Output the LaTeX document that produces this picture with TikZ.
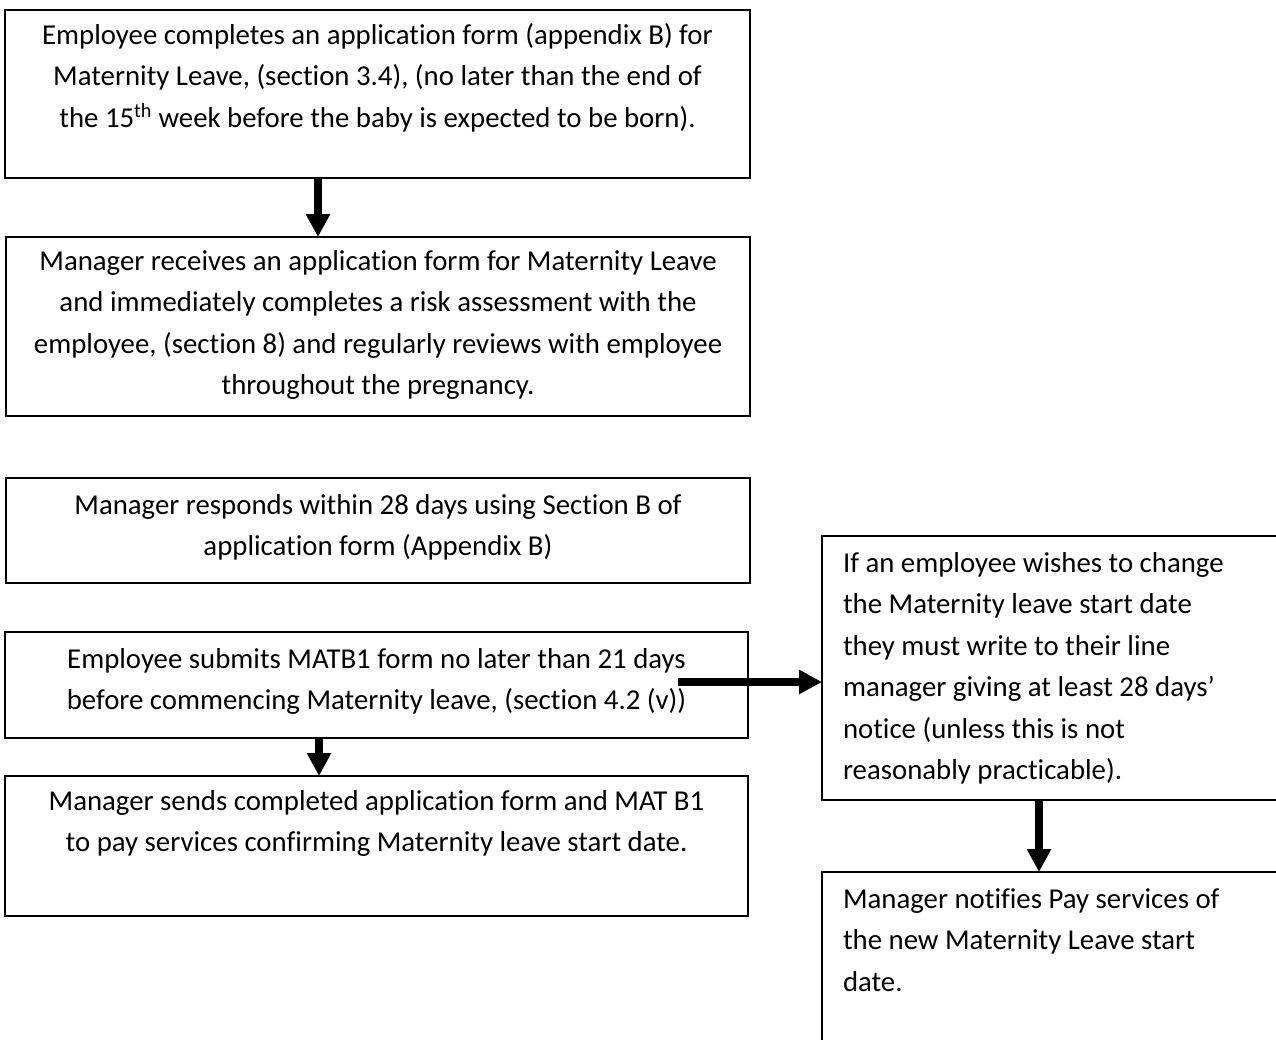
\documentclass[tikz,border=0pt]{standalone}
\usepackage{fontspec}
\setmainfont[Ligatures={NoCommon}]{Carlito}
\usetikzlibrary{arrows.meta}
\begin{document}
\begin{tikzpicture}[x=1pt,y=-1pt,
  box/.style={draw, line width=1.5pt, rectangle, inner sep=0pt, outer sep=0pt, anchor=north west},
  ctext/.style={inner sep=0pt, outer sep=0pt, text width=760pt, align=flush center, anchor=base, font=\fontsize{28.8}{41.5}\selectfont},
  ltext/.style={inner sep=0pt, outer sep=0pt, text width=430pt, align=flush left, anchor=base west, font=\fontsize{28.8}{41.5}\selectfont},
  arr/.style={line width=8pt, -{Triangle[width=23pt,length=23pt]}}]
\fill[white] (0,0) rectangle (1276,1039);
\useasboundingbox (0,0) rectangle (1276,1039);
\clip (0,0) rectangle (1276,1039);

% boxes
\node[box, minimum width=745pt, minimum height=168pt] (b1) at (5,10) {};
\node[box, minimum width=744pt, minimum height=179pt] (b2) at (6,237) {};
\node[box, minimum width=744pt, minimum height=105pt] (b3) at (6,478) {};
\node[box, minimum width=743pt, minimum height=106pt] (b4) at (5,632) {};
\node[box, minimum width=743pt, minimum height=140pt] (b5) at (5,776) {};
\node[box, minimum width=480pt, minimum height=264pt] (b6) at (822,536) {};
\node[box, minimum width=480pt, minimum height=220pt] (b7) at (822,872) {};

% texts
\node[ctext] (t1) at (377.5,44) {Employee completes an application form (appendix B) for\\Maternity Leave, (section 3.4), (no later than the end of\\the 15\textsuperscript{th} week before the baby is expected to be born).};
\node[ctext] (t2) at (378,270) {Manager receives an application form for Maternity Leave\\and immediately completes a risk assessment with the\\employee, (section 8) and regularly reviews with employee\\throughout the pregnancy.};
\node[ctext] (t3) at (378,514) {Manager responds within 28 days using Section B of\\application form (Appendix B)};
\node[ctext] (t4) at (376.5,668) {Employee submits MATB1 form no later than 21 days\\before commencing Maternity leave, (section 4.2 (v))};
\node[ctext] (t5) at (376.5,810) {Manager sends completed application form and MAT B1\\to pay services confirming Maternity leave start date.};
\node[ltext] (t6) at (843,572) {If an employee wishes to change\\the Maternity leave start date\\they must write to their line\\manager giving at least 28 days’\\notice (unless this is not\\reasonably practicable).};
\node[ltext] (t7) at (843,908) {Manager notifies Pay services of\\the new Maternity Leave start\\date.};

% connectors
\coordinate (c1) at (318,0);
\coordinate (c2) at (319,0);
\coordinate (c4) at (1039,0);
\coordinate (h0) at (678,682);
\draw[arr] (c1 |- b1.south) -- (c1 |- b2.north);
\draw[arr] (c2 |- b4.south) -- (c2 |- b5.north);
\draw[arr] (h0) -- (h0 -| b6.west);
\draw[arr] (c4 |- b6.south) -- (c4 |- b7.north);
\end{tikzpicture}
\end{document}
